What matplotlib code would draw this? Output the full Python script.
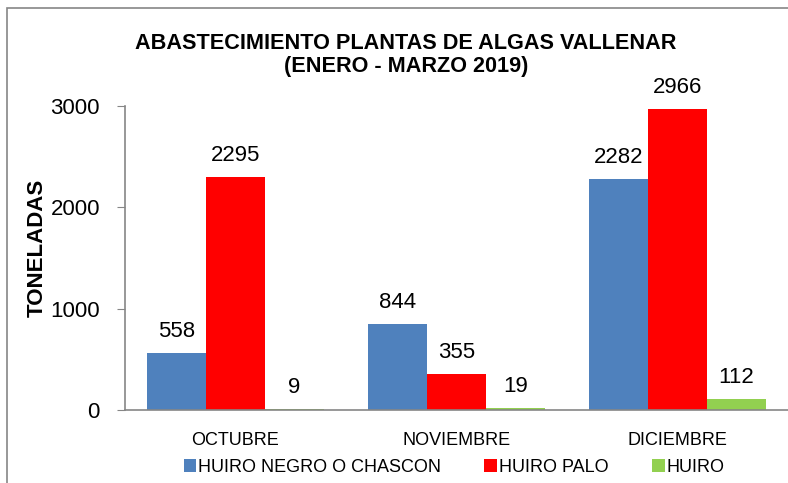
import numpy as np
import matplotlib.pyplot as plt
from matplotlib.patches import Rectangle

plt.rcParams['font.family'] = ['Liberation Sans', 'DejaVu Sans']

months = ["OCTUBRE", "NOVIEMBRE", "DICIEMBRE"]
series_names = ["HUIRO NEGRO O CHASCON", "HUIRO PALO", "HUIRO"]
negro = [558, 844, 2282]
palo = [2295, 355, 2966]
huiro = [9, 19, 112]
colors = ["#4F81BD", "#FF0000", "#92D050"]
yticks = [0, 1000, 2000, 3000]

fig = plt.figure(figsize=(7.88, 4.83), dpi=100)
ax = fig.add_axes([125 / 788, 1 - 410 / 483, 663 / 788, 304 / 483])

# outer chart border
fig.patches.append(Rectangle((7 / 788, -0.1), 1.2, (483 - 8) / 483 + 0.1,
                             transform=fig.transFigure, fill=False,
                             edgecolor="#868686", linewidth=1.2))

x = np.arange(len(months))
width = 0.8 / 3
for i, (vals, name) in enumerate(zip([negro, palo, huiro], series_names)):
    bars = ax.bar(x + (i - 1) * width, vals, width, color=colors[i], label=name)
    for b, v in zip(bars, vals):
        ax.annotate(str(v), (b.get_x() + b.get_width() / 2, v),
                    xytext=(0, 15.5), textcoords="offset points",
                    ha="center", va="center", fontsize=16, annotation_clip=False)

ax.set_xlim(-0.5, 2.5)
ax.set_ylim(0, 3000)
ax.set_yticks(yticks)
ax.set_yticklabels([str(t) for t in yticks], fontsize=16)
ax.set_xticks(x)
ax.set_xticklabels(months, fontsize=13)
ax.tick_params(axis="x", length=0, pad=16)
ax.tick_params(axis="y", length=6, color="#868686", pad=12)
for s in ["top", "right"]:
    ax.spines[s].set_visible(False)
for s in ["left", "bottom"]:
    ax.spines[s].set_color("#868686")
    ax.spines[s].set_linewidth(1.2)

ax.set_ylabel("TONELADAS", fontsize=16, fontweight="bold")
ax.yaxis.set_label_coords((48 - 125) / 663, (410 - 248) / 304)

fig.text(406 / 788, 1 - 55 / 483,
         "ABASTECIMIENTO PLANTAS DE ALGAS VALLENAR\n(ENERO - MARZO 2019)",
         ha="center", va="center", fontsize=15.6, fontweight="bold", linespacing=1.15)

fig.legend(loc="center", bbox_to_anchor=(454 / 788, 1 - 467 / 483), ncol=3,
           frameon=False, fontsize=13, handlelength=0.7, handleheight=0.7,
           handletextpad=0.1, columnspacing=2.4)

fig.savefig("out.png", dpi=100)
